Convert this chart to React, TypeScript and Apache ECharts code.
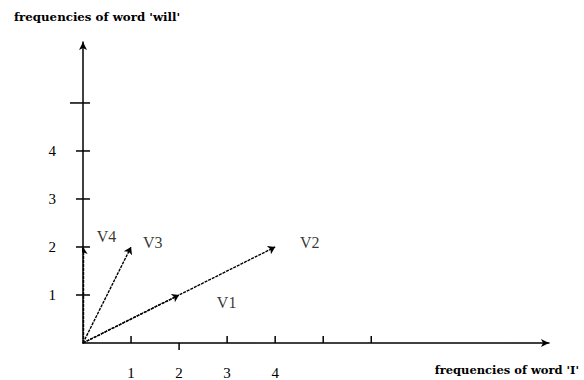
import React, { useEffect, useRef } from "react";
import * as echarts from "echarts";

// Word-frequency vectors: x = count of "I", y = count of "will"
const vectorNames = ["V1", "V2", "V3", "V4"];
const vectorX = [2, 4, 1, 0];
const vectorY = [1, 2, 2, 2];

// Where each vector's name is written (data space)
const nameX = [2.99, 4.72, 1.45, 0.49];
const nameY = [0.85, 2.1, 2.1, 2.21];

// Ticks and labelled values on each axis
const xTickValues = [1, 2, 3, 4, 5, 6];
const yTickValues = [1, 2, 3, 4, 5];
const xLabelValues = [1, 2, 3, 4];
const yLabelValues = [1, 2, 3, 4];

const xTitle = "frequencies of word 'I'";
const yTitle = "frequencies of word 'will'";

const SERIF = "'Liberation Serif', 'Times New Roman', serif";
const TITLE_FONT = "'DejaVu Serif', serif";
const INK = "#000";

export default function App() {
  const ref = useRef<HTMLDivElement>(null);

  useEffect(() => {
    if (!ref.current) return;
    const chart = echarts.init(ref.current, null, { renderer: "svg" });

    const vectorLines = vectorNames.map((n, i) => ({
      name: n,
      coords: [
        [0, 0],
        [vectorX[i], vectorY[i]],
      ],
    }));

    chart.setOption({
      animation: false,
      backgroundColor: "#fff",
      grid: { left: 83, top: 42, width: 466, height: 301, containLabel: false },
      xAxis: {
        type: "value",
        min: 0,
        max: 9.7,
        interval: 1,
        splitLine: { show: false },
        axisTick: { show: false },
        axisLine: {
          show: true,
          lineStyle: { color: INK, width: 1.5 },
          symbol: ["none", "arrow"],
          symbolSize: [6, 8],
        },
        axisLabel: {
          margin: 22,
          color: INK,
          fontFamily: SERIF,
          fontSize: 15,
          showMaxLabel: false,
          formatter: (v: number) => (xLabelValues.includes(v) ? String(v) : ""),
        },
      },
      yAxis: {
        type: "value",
        min: 0,
        max: 6.27,
        interval: 1,
        splitLine: { show: false },
        axisTick: { show: false },
        axisLine: {
          show: true,
          lineStyle: { color: INK, width: 1.5 },
          symbol: ["none", "arrow"],
          symbolSize: [6, 8],
        },
        axisLabel: {
          margin: 27,
          color: INK,
          fontFamily: SERIF,
          fontSize: 15,
          showMaxLabel: false,
          formatter: (v: number) => (yLabelValues.includes(v) ? String(v) : ""),
        },
      },
      graphic: [
        {
          type: "text",
          left: 14,
          top: 11,
          style: {
            text: yTitle,
            fontFamily: TITLE_FONT,
            fontWeight: "bold",
            fontSize: 11.8,
            fill: INK,
          },
        },
        {
          type: "text",
          right: 5,
          top: 364,
          style: {
            text: xTitle,
            fontFamily: TITLE_FONT,
            fontWeight: "bold",
            fontSize: 11.5,
            fill: INK,
          },
        },
      ],
      series: [
        // Tick marks on the horizontal axis: most point up, the one at 2 points down
        {
          type: "custom",
          coordinateSystem: "cartesian2d",
          data: xTickValues.map((v) => [v, 0]),
          silent: true,
          renderItem: (params: any, api: any) => {
            const v = api.value(0);
            const p = api.coord([v, 0]);
            const down = v === 2;
            return {
              type: "line",
              shape: { x1: p[0], y1: p[1], x2: p[0], y2: down ? p[1] + 7 : p[1] - 7 },
              style: { stroke: INK, lineWidth: 1.5 },
            };
          },
        },
        // Tick marks on the vertical axis, crossing it; the top one is longer
        {
          type: "custom",
          coordinateSystem: "cartesian2d",
          data: yTickValues.map((v) => [0, v]),
          silent: true,
          renderItem: (params: any, api: any) => {
            const v = api.value(1);
            const p = api.coord([0, v]);
            const leftLen = v === 5 ? 13 : 7;
            return {
              type: "line",
              shape: { x1: p[0] - leftLen, y1: p[1], x2: p[0] + 7, y2: p[1] },
              style: { stroke: INK, lineWidth: 1.5 },
            };
          },
        },
        {
          type: "lines",
          coordinateSystem: "cartesian2d",
          polyline: false,
          silent: true,
          symbol: ["none", "arrow"],
          symbolSize: 7,
          lineStyle: { color: INK, width: 1.4, type: [3, 1], opacity: 1 },
          data: vectorLines,
          z: 3,
        },
        {
          type: "scatter",
          symbolSize: 0,
          silent: true,
          data: vectorNames.map((n, i) => ({ name: n, value: [nameX[i], nameY[i]] })),
          label: {
            show: true,
            position: "inside",
            formatter: (p: any) => p.name,
            color: INK,
            fontFamily: SERIF,
            fontSize: 16,
          },
        },
      ],
    });

    return () => chart.dispose();
  }, []);

  return (
    <div
      ref={ref}
      style={{ position: "absolute", left: 0, top: 0, width: 584, height: 380 }}
    />
  );
}
